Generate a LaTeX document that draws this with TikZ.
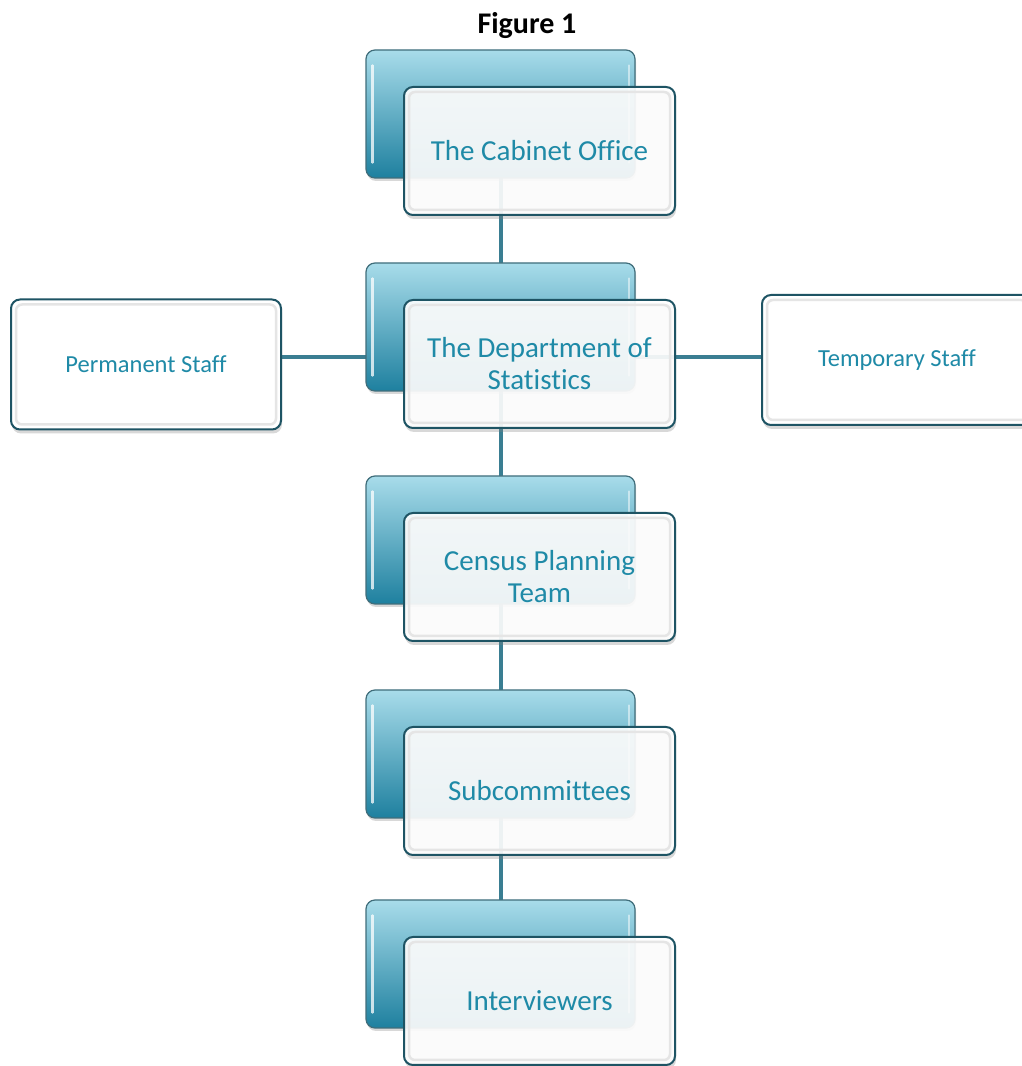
\documentclass[tikz,border=0pt]{standalone}
\usepackage{fontspec}
\setmainfont{Carlito}[Ligatures=NoCommon]
\usetikzlibrary{shadows,backgrounds}
\definecolor{txtc}{HTML}{1F8AA7}
\definecolor{edgec}{HTML}{1E5464}
\definecolor{connc}{HTML}{3A7E92}
\definecolor{btop}{HTML}{A8DCEA}
\definecolor{bbot}{HTML}{1E809F}
\tikzset{
  backbox/.style={rounded corners=9pt, minimum width=269pt, minimum height=128pt,
    draw=edgec!85, line width=1.2pt, top color=btop, bottom color=bbot,
    drop shadow={shadow xshift=1pt,shadow yshift=-3pt,opacity=0.3}},
  frontbox/.style={rounded corners=9pt, minimum width=271pt, minimum height=128pt,
    draw=edgec, line width=2pt, fill=white, fill opacity=0.9, text opacity=1,
    text=txtc, font=\fontsize{29}{32}\selectfont, align=center, inner sep=0pt,
    drop shadow={shadow xshift=1pt,shadow yshift=-4pt,opacity=0.3}},
  sidebox/.style={rounded corners=9pt, minimum width=270pt, minimum height=130pt,
    draw=edgec, line width=2pt, fill=white, text=txtc,
    font=\fontsize{24.5}{29}\selectfont, align=center, inner sep=0pt,
    drop shadow={shadow xshift=1pt,shadow yshift=-4pt,opacity=0.3}},
  bevel/.style={rounded corners=6pt, draw=black!10, line width=2.5pt},
  gloss/.style={draw=white, opacity=0.75, line width=2.2pt, line cap=round},
  connline/.style={draw=connc, line width=4pt},
  titlestyle/.style={font=\fontsize{30}{33}\selectfont\bfseries, text=black}
}
\begin{document}
\begin{tikzpicture}[x=1pt,y=1pt]
\useasboundingbox (0,0) rectangle (1021,1066);
\node[titlestyle] (title) at (527,1040) {Figure 1};
% back boxes
\node[backbox] (b1) at (500.5,952) {};
\node[backbox] (b2) at (500.5,739) {};
\node[backbox] (b3) at (500.5,526) {};
\node[backbox] (b4) at (500.5,312) {};
\node[backbox] (b5) at (500.5,102) {};
\foreach \b in {b1,b2,b3,b4,b5}{
  \draw[gloss] ([shift={(7,-16)}]\b.north west) -- ([shift={(7,16)}]\b.south west);
  \draw[gloss,opacity=0.5] ([shift={(-7,-16)}]\b.north east) -- ([shift={(-7,16)}]\b.south east);
}
% front boxes
\node[frontbox] (f1) at (539.5,915) {The Cabinet Office};
\node[frontbox] (f2) at (539.5,702) {The Department of\\Statistics};
\node[frontbox] (f3) at (539.5,489) {Census Planning\\Team};
\node[frontbox] (f4) at (539.5,275) {Subcommittees};
\node[frontbox] (f5) at (539.5,65) {Interviewers};
% side boxes
\node[sidebox] (perm) at (146,701.5) {Permanent Staff};
\node[sidebox] (temp) at (897,706) {Temporary Staff};
\foreach \f in {f1,f2,f3,f4,f5,perm,temp}{
  \draw[bevel] ([shift={(6,-6)}]\f.north west) rectangle ([shift={(-6,6)}]\f.south east);
}
\coordinate (hline) at (0,709);
\begin{pgfonlayer}{background}
  \fill[white] (0,0) rectangle (1021,1066);
  \draw[connline] (b1.center) -- (b2.center);
  \draw[connline] (b2.center) -- (b3.center);
  \draw[connline] (b3.center) -- (b4.center);
  \draw[connline] (b4.center) -- (b5.center);
  \draw[connline] (perm.east |- hline) -- (temp.west |- hline);
\end{pgfonlayer}
\end{tikzpicture}
\end{document}
